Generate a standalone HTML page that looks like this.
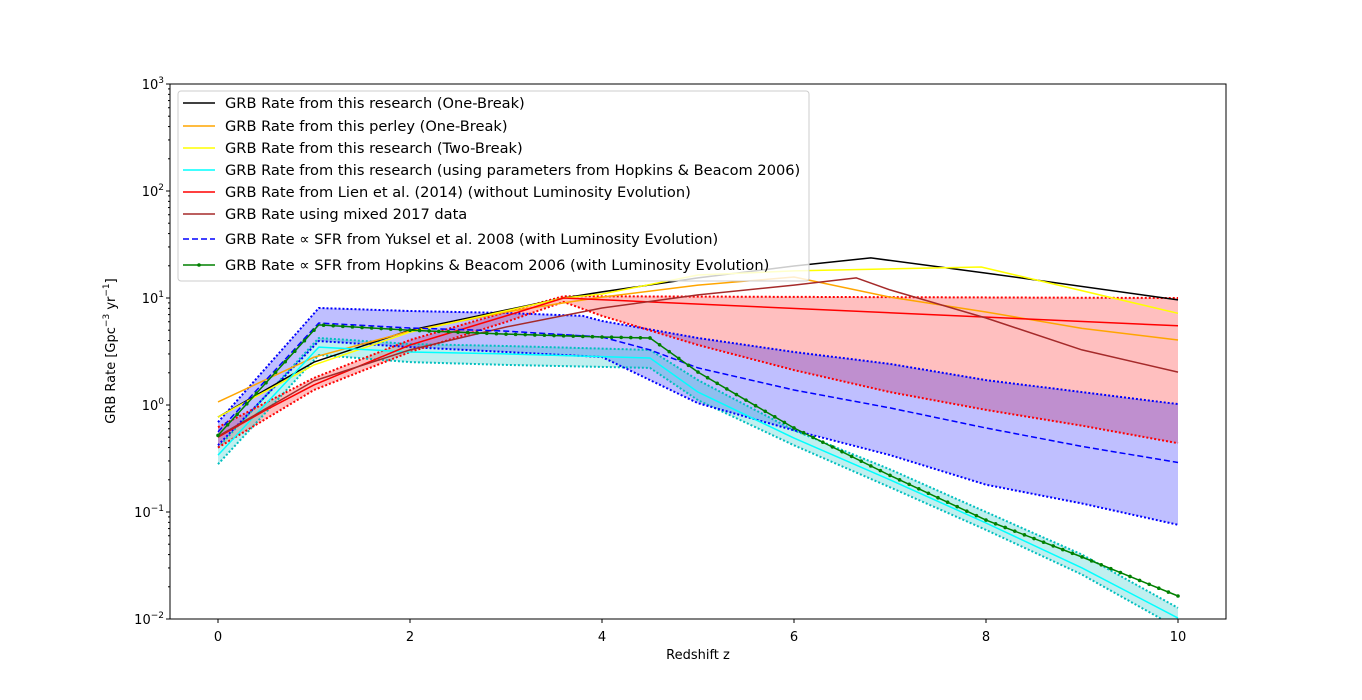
<!DOCTYPE html>
<html><head><meta charset="utf-8"><style>
body{margin:0;background:#fff;}
svg text{font-family:"DejaVu Sans","Liberation Sans",sans-serif;}
</style></head><body>
<svg id="chart" width="1362" height="695" xmlns="http://www.w3.org/2000/svg">
<defs><clipPath id="clip"><rect x="170" y="84" width="1056" height="535"/></clipPath></defs>
<rect width="1362" height="695" fill="#fff"/>
<g id="fills" clip-path="url(#clip)"></g>
<g id="lines" clip-path="url(#clip)"></g>
<g id="axes"></g>
<g id="legend"></g>
</svg>
<script>
const xTicks=[0,2,4,6,8,10];
const yTickExps=[-2,-1,0,1,2,3];
const zBlack=[0,1,2,3.6,4,5,6,6.8,8,10];
const vBlack=[0.77,2.52,5.0,10,11.4,15.4,19.9,23.7,17.1,9.6];
const zYellow=[0,1,2,3.6,4,5,6,7.95,10];
const vYellow=[0.77,2.37,4.8,10,10.9,16.4,17.9,19.5,7.2];
const zOrange=[0,1,2,3,3.6,4,5,6,7,8,9,10];
const vOrange=[1.07,2.8,4.9,7.4,9.0,10.2,13.2,15.7,10.2,7.4,5.2,4.05];
const zRed=[0,0.5,1,1.5,2,3,3.6,10];
const vRed=[0.50,0.90,1.54,2.37,3.64,6.8,10,5.5];
const zRedUp=[0,1,2,3,3.6,10];
const vRedUp=[0.62,1.79,4.05,7.4,10.4,10];
const zRedLo=[0,1,2,3,3.6,4,5,6,7,8,9,10];
const vRedLo=[0.40,1.38,3.13,5.97,9.2,6.8,3.64,2.12,1.32,0.90,0.64,0.44];
const zBrown=[0,1,2,3,4,5,6,6.65,7,8,9,10];
const vBrown=[0.51,1.68,3.27,5.36,8.07,10.7,13.2,15.4,11.9,6.5,3.27,2.03];
const zBlue=[0,1.05,2,3,4,4.5,5,6,7,8,9,10];
const vBlue=[0.56,5.84,5.24,4.9,4.32,3.27,2.22,1.38,0.94,0.61,0.41,0.29];
const zBlueUp=[0,1.05,2,3,3.8,4,5,6,7,8,9,10];
const vBlueUp=[0.69,8.07,7.56,7.24,6.8,6.1,4.23,3.13,2.42,1.71,1.32,1.02];
const zBlueLo=[0,1.05,2,3,4,4.5,5,6,7,8,9,10];
const vBlueLo=[0.42,3.96,3.48,3.13,2.81,1.71,1.04,0.58,0.34,0.18,0.12,0.076];
const zGreen=[0,1.05,2,3,4,4.5,5,5.5,6,7,8,9,10];
const vGreen=[0.52,5.6,5.0,4.6,4.32,4.23,2.03,1.11,0.61,0.22,0.084,0.038,0.0164];
const zCyan=[0,1.05,2,3,4.5,5,6,7,8,9,10];
const vCyan=[0.34,3.48,3.13,3.0,2.75,1.32,0.49,0.2,0.079,0.030,0.0102];
const vCyanUp=[0.40,4.23,3.72,3.56,3.27,1.71,0.58,0.25,0.1,0.040,0.0127];
const vCyanLo=[0.28,2.93,2.52,2.37,2.22,1.11,0.42,0.17,0.068,0.026,0.0082];
const legendLabels=["GRB Rate from this research (One-Break)","GRB Rate from this perley (One-Break)","GRB Rate from this research (Two-Break)","GRB Rate from this research (using parameters from Hopkins & Beacom 2006)","GRB Rate from Lien et al. (2014) (without Luminosity Evolution)","GRB Rate using mixed 2017 data","GRB Rate \u221D SFR from Yuksel et al. 2008 (with Luminosity Evolution)","GRB Rate \u221D SFR from Hopkins & Beacom 2006 (with Luminosity Evolution)"];

const NS="http://www.w3.org/2000/svg";
const X=z=>218+96*z;
const Y=v=>405-107*Math.log10(v);
function mk(tag,attrs,parent){const e=document.createElementNS(NS,tag);for(const k in attrs)e.setAttribute(k,attrs[k]);parent.appendChild(e);return e;}
function pts(zs,vs){return zs.map((z,i)=>X(z).toFixed(1)+","+Y(vs[i]).toFixed(1)).join(" ");}
const fills=document.getElementById('fills'),lines=document.getElementById('lines'),axes=document.getElementById('axes'),legend=document.getElementById('legend');
function band(zu,vu,zl,vl,color,name){
  const p=pts(zu,vu)+" "+zl.map((z,i)=>X(z).toFixed(1)+","+Y(vl[i]).toFixed(1)).reverse().join(" ");
  const e=mk('polygon',{points:p,fill:color,'fill-opacity':0.25,stroke:'none'},fills);
  
  
}
function line(zs,vs,color,w,dash,name){
  const a={points:pts(zs,vs),fill:'none',stroke:color,'stroke-width':w,'stroke-linejoin':'round'};
  if(dash)a['stroke-dasharray']=dash;
  const e=mk('polyline',a,lines);
  
  
}
band(zRedUp,vRedUp,zRedLo,vRedLo,'#ff0000','red-band');
band(zBlueUp,vBlueUp,zBlueLo,vBlueLo,'#0000ff','blue-band');
band(zCyan,vCyanUp,zCyan,vCyanLo,'#00bfbf','cyan-band');

line(zCyan,vCyanUp,'#00bfbf',2,'2,2','cyan-upper-bound');
line(zCyan,vCyanLo,'#00bfbf',2,'2,2','cyan-lower-bound');
line(zBlueUp,vBlueUp,'#0000ff',2,'2,2','blue-upper-bound');
line(zBlueLo,vBlueLo,'#0000ff',2,'2,2','blue-lower-bound');
line(zRedUp,vRedUp,'#ff0000',2,'2,2','red-upper-bound');
line(zRedLo,vRedLo,'#ff0000',2,'2,2','red-lower-bound');
line(zBlack,vBlack,'#000',1.5,null,'one-break-line');
line(zOrange,vOrange,'#ffa500',1.5,null,'perley-line');
line(zYellow,vYellow,'#ffff00',1.5,null,'two-break-line');
line(zCyan,vCyan,'#00ffff',1.5,null,'hopkins-params-line');
line(zRed,vRed,'#ff0000',1.5,null,'lien-line');
line(zBrown,vBrown,'#a52a2a',1.5,null,'mixed-2017-line');
line(zBlue,vBlue,'#0000ff',1.5,'6,3','yuksel-sfr-line');
line(zGreen,vGreen,'#008000',1.5,null,'hopkins-sfr-line');
for(let k=0;k<=100;k++){
  const z=k/10;let i=0;while(i<zGreen.length-2&&z>zGreen[i+1])i++;
  const t=(z-zGreen[i])/(zGreen[i+1]-zGreen[i]);
  const lv=Math.log10(vGreen[i])*(1-t)+Math.log10(vGreen[i+1])*t;
  const c=mk('circle',{cx:X(z),cy:Y(Math.pow(10,lv)),r:1.8,fill:'#008000'},lines);
  
  
}
const fr=mk('rect',{x:170,y:84,width:1056,height:535,fill:'none',stroke:'#000','stroke-width':1},axes);


xTicks.forEach(t=>{
  mk('line',{x1:X(t),x2:X(t),y1:619,y2:623,stroke:'#000'},axes);
  const tx=mk('text',{x:X(t),y:641,'text-anchor':'middle','font-size':13},axes);
  tx.textContent=t;
  
  
});
yTickExps.forEach(e=>{
  const y=Y(Math.pow(10,e));
  mk('line',{x1:166,x2:170,y1:y,y2:y,stroke:'#000'},axes);
  const tx=mk('text',{x:164,y:y+5,'text-anchor':'end','font-size':13},axes);
  
  
  tx.textContent='10';
  const s=mk('tspan',{dy:-6,'font-size':9},tx);s.textContent=e<0?'\u2212'+(-e):e;
  if(e<3)for(let m=2;m<10;m++){const ym=Y(m*Math.pow(10,e));mk('line',{x1:168,x2:170,y1:ym,y2:ym,stroke:'#000'},axes);}
});
const xl=mk('text',{x:698,y:659,'text-anchor':'middle','font-size':13},axes);
xl.textContent='Redshift z';


const yl=mk('text',{x:0,y:0,'text-anchor':'middle','font-size':13,transform:'translate(115,351) rotate(-90)'},axes);


yl.innerHTML='GRB Rate [Gpc<tspan dy="-6" font-size="9">\u22123</tspan><tspan dy="6"> yr</tspan><tspan dy="-6" font-size="9">\u22121</tspan><tspan dy="6">]</tspan>';
const lb=mk('rect',{x:178,y:91,width:631,height:190,rx:3,fill:'#fff','fill-opacity':0.8,stroke:'#ccc'},legend);


const lc=['#000','#ffa500','#ffff00','#00ffff','#ff0000','#a52a2a','#0000ff','#008000'];
const ly=[103,126,148,170,192,214,239,265];
legendLabels.forEach((t,i)=>{
  const g=mk('g',{},legend);
  
  
  const a={x1:183,x2:215,y1:ly[i],y2:ly[i],stroke:lc[i],'stroke-width':1.5};
  if(i==6)a['stroke-dasharray']='6,3';
  mk('line',a,g);
  if(i==7)mk('circle',{cx:199,cy:ly[i],r:1.8,fill:lc[i]},g);
  const tx=mk('text',{x:225,y:ly[i]+5,'font-size':14.6},g);tx.textContent=t;
});
</script>
</body></html>
